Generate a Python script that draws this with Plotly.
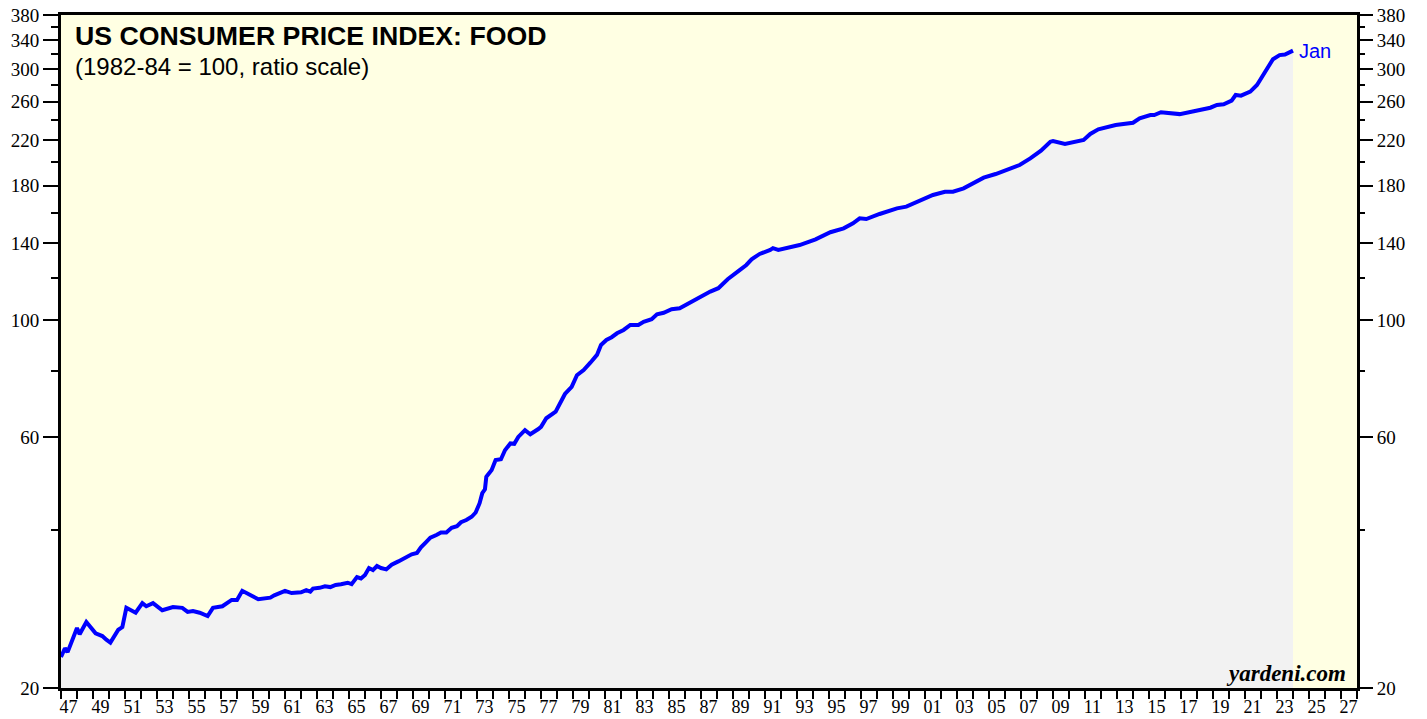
import math
import plotly.graph_objects as go

# US CPI: food, 1982-84 = 100 (monthly observations sampled along the series)
months = [
    "1947-01", "1947-04", "1947-06", "1947-10", "1948-01", "1948-03", "1948-08", "1949-03",
    "1949-08", "1949-11", "1950-02", "1950-08", "1950-11", "1951-02", "1951-09", "1952-02",
    "1952-05", "1952-10", "1953-05", "1954-01", "1954-08", "1954-12", "1955-04", "1955-09",
    "1956-03", "1956-07", "1957-02", "1957-09", "1958-01", "1958-05", "1958-11", "1959-05",
    "1960-02", "1960-05", "1961-01", "1961-06", "1962-01", "1962-05", "1962-08", "1962-10",
    "1963-03", "1963-07", "1963-11", "1964-03", "1964-07", "1964-12", "1965-03", "1965-07",
    "1965-10", "1966-01", "1966-04", "1966-07", "1966-10", "1967-01", "1967-05", "1967-09",
    "1968-02", "1968-07", "1968-12", "1969-04", "1969-07", "1969-11", "1970-02", "1970-07",
    "1970-10", "1971-02", "1971-06", "1971-10", "1972-01", "1972-05", "1972-09", "1972-12",
    "1973-03", "1973-05", "1973-07", "1973-08", "1973-12", "1974-03", "1974-07", "1974-10",
    "1975-02", "1975-05", "1975-08", "1976-01", "1976-05", "1976-11", "1977-01", "1977-05",
    "1977-12", "1978-07", "1978-12", "1979-04", "1979-09", "1980-02", "1980-07", "1980-10",
    "1981-02", "1981-06", "1981-10", "1982-03", "1982-08", "1983-02", "1983-06", "1983-12",
    "1984-04", "1984-09", "1985-03", "1985-09", "1986-03", "1986-10", "1987-03", "1987-08",
    "1988-02", "1988-09", "1989-06", "1989-11", "1990-03", "1990-09", "1991-05", "1991-07",
    "1991-11", "1992-08", "1993-03", "1994-03", "1995-02", "1995-12", "1996-07", "1996-12",
    "1997-05", "1998-03", "1999-04", "1999-11", "2000-09", "2001-07", "2002-04", "2002-10",
    "2003-06", "2004-03", "2004-09", "2005-06", "2006-03", "2006-12", "2007-08", "2008-04",
    "2008-11", "2009-01", "2009-10", "2010-07", "2010-12", "2011-05", "2011-11", "2012-12",
    "2014-01", "2014-06", "2015-02", "2015-05", "2015-10", "2016-12", "2017-08", "2018-03",
    "2018-11", "2019-04", "2019-09", "2020-03", "2020-06", "2020-10", "2021-05", "2021-10",
    "2022-04", "2022-10", "2023-03", "2023-07", "2024-01",
]
food_cpi = [
    22.9, 23.8, 23.4, 24.9, 26.0, 25.3, 26.7, 25.4,
    25.1, 24.7, 24.4, 25.8, 26.1, 28.4, 27.8, 29.0,
    28.6, 29.0, 28.1, 28.5, 28.4, 27.9, 28.0, 27.8,
    27.4, 28.4, 28.6, 29.4, 29.4, 30.6, 30.0, 29.5,
    29.7, 30.0, 30.6, 30.3, 30.4, 30.7, 30.5, 30.9,
    31.0, 31.2, 31.1, 31.4, 31.5, 31.7, 31.5, 32.5,
    32.3, 32.8, 33.8, 33.5, 34.1, 33.8, 33.6, 34.3,
    34.8, 35.3, 35.9, 36.1, 37.0, 37.9, 38.6, 39.1,
    39.5, 39.5, 40.3, 40.6, 41.3, 41.7, 42.3, 43.1,
    44.9, 46.9, 47.7, 50.4, 51.9, 54.2, 54.4, 56.6,
    58.3, 58.2, 60.0, 61.8, 60.7, 62.1, 62.7, 65.1,
    67.0, 72.4, 74.7, 78.6, 80.4, 83.0, 85.9, 89.7,
    91.7, 92.8, 94.4, 95.8, 97.9, 97.9, 99.3, 100.4,
    102.6, 103.3, 104.9, 105.3, 107.3, 110.0, 111.6, 113.3,
    115.0, 119.6, 124.5, 127.3, 130.5, 133.6, 136.0, 137.0,
    136.0, 137.3, 138.9, 142.4, 146.9, 149.4, 152.7, 156.1,
    155.6, 159.1, 163.1, 164.3, 168.6, 172.9, 175.4, 175.4,
    178.0, 183.2, 186.5, 189.5, 193.4, 197.1, 202.9, 209.9,
    218.3, 219.0, 216.1, 218.3, 219.9, 225.8, 230.4, 234.8,
    237.2, 241.8, 245.3, 245.3, 248.3, 246.3, 248.9, 251.6,
    253.3, 256.4, 257.2, 261.2, 267.8, 267.0, 271.7, 279.8,
    295.3, 313.2, 318.9, 319.7, 325.2,
]

# Axis ticks
y_major = [20, 60, 100, 140, 180, 220, 260, 300, 340, 380]
y_minor = [40, 80, 120, 160, 200, 240, 280, 320, 360]
label_years = list(range(1947, 2028, 2))
year_text = [f"{y % 100:02d}" for y in label_years]
year_mid = [f"{y}-06-20" for y in label_years]

y_range = [math.log10(20), math.log10(380)]
x_range = ["1947-01-01", "2028-01-01"]

fig = go.Figure()
fig.add_trace(go.Scatter(
    x=months, y=food_cpi, mode="lines",
    line=dict(color="#0000FF", width=4),
    fill="tozeroy", fillcolor="#F2F2F2",
    hoverinfo="x+y", showlegend=False,
))
# companion trace so the right-hand axis is drawn
fig.add_trace(go.Scatter(
    x=months, y=food_cpi, yaxis="y2", mode="lines",
    line=dict(width=0, color="rgba(0,0,0,0)"),
    hoverinfo="skip", showlegend=False,
))

tick_font = dict(family="Liberation Serif, Times New Roman, serif", size=19, color="black")

yaxis_common = dict(
    type="log", range=y_range, automargin=False,
    tickmode="array", tickvals=y_major, ticktext=[str(v) for v in y_major],
    ticks="outside", ticklen=15, tickwidth=2, tickcolor="black",
    minor=dict(tickmode="array", tickvals=y_minor, ticks="outside",
               ticklen=7, tickwidth=2, tickcolor="black", showgrid=False),
    showgrid=False, zeroline=False, tickfont=tick_font,
    fixedrange=True,
)

fig.update_layout(
    width=1427, height=719,
    margin=dict(l=61, r=70, t=15, b=31, autoexpand=False),
    paper_bgcolor="white",
    plot_bgcolor="#FFFFE3",
    xaxis=dict(
        type="date", range=x_range, automargin=False,
        tickmode="array", tickvals=year_mid, ticktext=year_text,
        ticks="outside", ticklen=0, tickcolor="rgba(0,0,0,0)",
        minor=dict(dtick="M12", tick0="1947-01-01", ticks="outside",
                   ticklen=8, tickwidth=2, tickcolor="black", showgrid=False),
        showgrid=False, zeroline=False,
        showline=True, linewidth=3, linecolor="black", mirror=True,
        tickfont=dict(family="Liberation Serif, Times New Roman, serif", size=18, color="black"),
        ticklabelstandoff=0,
    ),
    yaxis=dict(**yaxis_common, showline=True, linewidth=3, linecolor="black", mirror=True),
    yaxis2=dict(**yaxis_common, overlaying="y", side="right", showline=False),
    annotations=[
        dict(text="<b>US CONSUMER PRICE INDEX: FOOD</b>", xref="paper", yref="paper",
             x=0.009, y=0.969, xanchor="left", yanchor="middle", showarrow=False,
             font=dict(family="Liberation Sans, Arial, sans-serif", size=26.7, color="black")),
        dict(text="(1982-84 = 100, ratio scale)", xref="paper", yref="paper",
             x=0.009, y=0.924, xanchor="left", yanchor="middle", showarrow=False,
             font=dict(family="Liberation Sans, Arial, sans-serif", size=24, color="black")),
        dict(text="Jan", x=months[-1], y=math.log10(food_cpi[-1]), xref="x", yref="y",
             xanchor="left", yanchor="middle", xshift=4, showarrow=False,
             font=dict(family="Liberation Sans, Arial, sans-serif", size=20, color="#0000FF")),
        dict(text="<b><i>yardeni.com</i></b>", xref="paper", yref="paper",
             x=0.993, y=0.022, xanchor="right", yanchor="middle", showarrow=False,
             font=dict(family="Liberation Serif, Times New Roman, serif", size=23, color="black")),
    ],
)

fig.write_html("out.html")
